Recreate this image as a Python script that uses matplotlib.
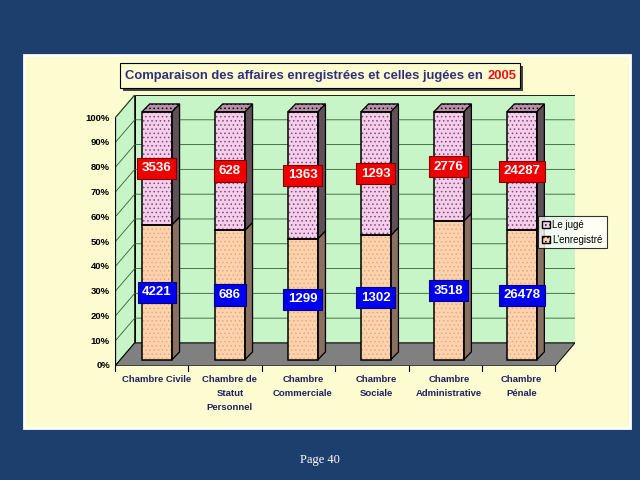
import matplotlib
matplotlib.use("Agg")
import matplotlib.pyplot as plt
from matplotlib.patches import Rectangle, Polygon
import numpy as np

plt.rcParams['font.family'] = ['Liberation Sans', 'DejaVu Sans']
plt.rcParams['hatch.linewidth'] = 0.6

categories = ["Chambre Civile", "Chambre de\nStatut\nPersonnel", "Chambre\nCommerciale",
              "Chambre\nSociale", "Chambre\nAdministrative", "Chambre\nPénale"]
enregistre = [4221, 686, 1299, 1302, 3518, 26478]
juge = [3536, 628, 1363, 1293, 2776, 24287]
yticks = [0, 10, 20, 30, 40, 50, 60, 70, 80, 90, 100]

fig = plt.figure(figsize=(6.4, 4.8), dpi=100)
fig.patch.set_facecolor('#1d3f6e')
fig.patches.append(Rectangle((24/640, 1-428/480), 606/640, 373/480, transform=fig.transFigure,
                             facecolor='#fdfbd0', edgecolor='white', lw=2, zorder=-5))

ax = fig.add_axes([115/640, 1-366/480, 460/640, 271/480])
ax.set_zorder(5)
ax.patch.set_alpha(0)
ax.set_xlim(-0.575, 5.73)
ax.set_ylim(0, 109.3)
ax.axis('off')
DX, DY = 0.27, 9.3
x0, xf = -0.575, 5.46
ax.add_patch(Polygon([(x0+DX, DY), (5.73, DY), (5.73, 100+DY), (x0+DX, 100+DY)],
                     closed=True, facecolor='#c8f5c8', edgecolor='black', lw=0.7, zorder=1))
ax.add_patch(Polygon([(x0, 0), (x0+DX, DY), (x0+DX, 100+DY), (x0, 100)], closed=True,
                     facecolor='#c8f5c8', edgecolor='black', lw=0.7, zorder=1))
for t in yticks:
    ax.plot([x0, x0+DX, 5.73], [t, t+DY, t+DY], color='#306030', lw=0.6, zorder=1.5)
    ax.plot([x0-0.05, x0], [t, t], color='black', lw=0.7, zorder=1.5)
    ax.text(x0-0.07, t, f"{t}%", ha='right', va='center', fontsize=6.8, fontweight='bold')
ax.add_patch(Polygon([(x0, 0), (xf, 0), (5.73, DY), (x0+DX, DY)], closed=True,
                     facecolor='#808080', edgecolor='black', lw=0.7, zorder=1.6))
ax.plot([x0, x0], [0, 100], color='black', lw=0.9, zorder=1.7)
for k in range(7):
    xt = x0 + k * (xf - x0) / 6
    ax.plot([xt, xt], [0, -2], color='black', lw=0.8, clip_on=False)

w = 0.41
yb = 2.5
bdx, bdy = 0.105, 3.2
for i, (e, j) in enumerate(zip(enregistre, juge)):
    tot = e + j
    pe = e / tot * 100
    xl, xr = i - w/2, i + w/2
    ax.add_patch(Rectangle((xl, yb), w, pe, facecolor='#fcd3ae', edgecolor='#eaa878',
                           hatch='....', lw=0, zorder=3))
    ax.add_patch(Rectangle((xl, yb), w, pe, facecolor='none', edgecolor='black', lw=1.1, zorder=3.1))
    ax.add_patch(Polygon([(xr, yb), (xr+bdx, yb+bdy), (xr+bdx, yb+pe+bdy), (xr, yb+pe)], closed=True,
                         facecolor='#8a7060', edgecolor='black', lw=0.9, zorder=3))
    ax.add_patch(Rectangle((xl, yb+pe), w, 100-pe, facecolor='#f2d0ea', edgecolor='#904080',
                           hatch='....', lw=0, zorder=3))
    ax.add_patch(Rectangle((xl, yb+pe), w, 100-pe, facecolor='none', edgecolor='black', lw=1.1, zorder=3.1))
    ax.add_patch(Polygon([(xr, yb+pe), (xr+bdx, yb+pe+bdy), (xr+bdx, yb+100+bdy), (xr, yb+100)],
                         closed=True, facecolor='#605058', edgecolor='black', lw=0.9, zorder=3))
    ax.add_patch(Polygon([(xl, yb+100), (xr, yb+100), (xr+bdx, yb+100+bdy), (xl+bdx, yb+100+bdy)],
                         closed=True, facecolor='#b890a8', edgecolor='black', hatch='....', lw=0.9, zorder=3))
    ax.text(i, yb + pe/2, str(e), ha='center', va='center', fontsize=9.5, fontweight='bold',
            color='white', zorder=5,
            bbox=dict(boxstyle='square,pad=0.35', facecolor='#0000ee', edgecolor='#000080', lw=0.8))
    ax.text(i, yb + pe + (100-pe)/2, str(j), ha='center', va='center', fontsize=9.5, fontweight='bold',
            color='white', zorder=5,
            bbox=dict(boxstyle='square,pad=0.35', facecolor='#ee0000', edgecolor='#800000', lw=0.8))
    ax.text(i, -3.5, categories[i], ha='center', va='top', fontsize=6.8, fontweight='bold',
            color='#202060', linespacing=1.75)

fig.patches.append(Rectangle((123/640, 1-91/480), 400/640, 25/480, transform=fig.transFigure,
                             facecolor='#444444', edgecolor='none', zorder=1))
fig.patches.append(Rectangle((120/640, 1-88/480), 400/640, 25/480, transform=fig.transFigure,
                             facecolor='#fdfbd0', edgecolor='black', lw=0.8, zorder=1.1))
fig.text(486/640, 1-76/480, "Comparaison des affaires enregistrées et celles jugées en ",
         ha='right', va='center', fontsize=9.4, fontweight='bold', color='#303080', zorder=2)
fig.text(487/640, 1-76/480, "2005", ha='left', va='center', fontsize=9.4,
         fontweight='bold', color='#ee1010', zorder=2)

handles = [Rectangle((0, 0), 1, 1, facecolor='#f2d0ea', edgecolor='black', hatch='....'),
           Rectangle((0, 0), 1, 1, facecolor='#fcd3ae', edgecolor='black', hatch='....')]
leg = fig.legend(handles, ["Le jugé", "L'enregistré"], loc='upper left',
                 bbox_to_anchor=(533/640, 1-211/480), fontsize=7, frameon=True,
                 fancybox=False, edgecolor='black', handlelength=0.8, handleheight=0.8,
                 handletextpad=0.3, borderpad=0.4, labelspacing=0.5)
leg.get_frame().set_linewidth(0.8)
leg.set_zorder(10)

fig.text(0.5, 1-460/480, "Page 40", ha='center', va='center', fontsize=9,
         color='white', family='Liberation Serif')

fig.savefig("out.png", dpi=100, facecolor=fig.get_facecolor())
